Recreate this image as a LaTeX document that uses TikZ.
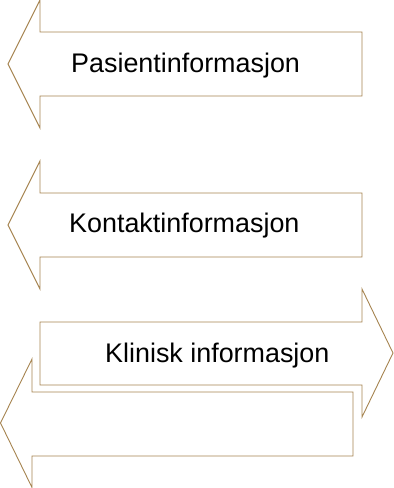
\documentclass[tikz,border=0pt]{standalone}
\usepackage{fontspec}
\setmainfont{Liberation Sans}
\definecolor{arrowline}{RGB}{166,132,80}
\begin{document}
\begin{tikzpicture}[x=1pt,y=-1pt,
  blockarrow/.style={draw=arrowline,fill=white,line width=0.9pt,line join=miter},
  label/.style={anchor=base west,inner sep=0pt,font=\fontsize{26.9}{30}\selectfont,text=black}]
\useasboundingbox (0,0) rectangle (394,488);
% left-pointing arrow: Pasientinformasjon
\draw[blockarrow] (8,64) -- (40,0) -- (40,32) -- (362,32) -- (362,96) -- (40,96) -- (40,128) -- cycle;
\node[label] (pas) at (71,72.7) {Pasientinformasjon};
% left-pointing arrow: Kontaktinformasjon
\draw[blockarrow] (8,225) -- (40,161) -- (40,193) -- (362,193) -- (362,257) -- (40,257) -- (40,289) -- cycle;
\node[label] (kon) at (69,232) {Kontaktinformasjon};
% right-pointing arrow: Klinisk informasjon
\draw[blockarrow] (393,353) -- (362,289) -- (362,322) -- (40,322) -- (40,385) -- (362,385) -- (362,417) -- cycle;
\node[label] (kli) at (105,362) {Klinisk informasjon};
% empty left-pointing arrow underneath
\draw[blockarrow] (0.5,423) -- (32,359) -- (32,392) -- (353,392) -- (353,456) -- (32,456) -- (32,487.5) -- cycle;
\end{tikzpicture}
\end{document}
